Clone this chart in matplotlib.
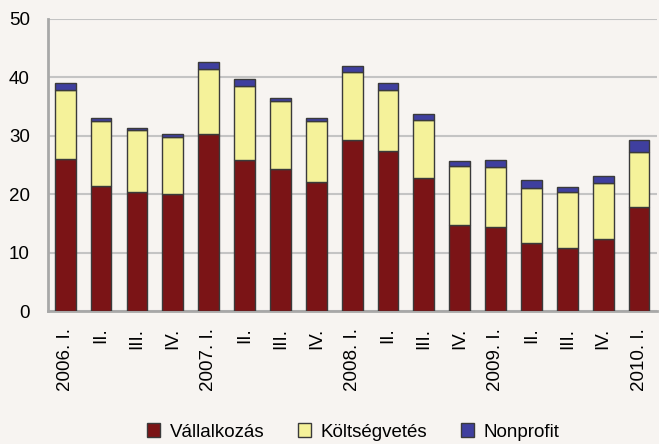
import numpy as np
import matplotlib.pyplot as plt

plt.rcParams['font.family'] = ['Liberation Sans', 'DejaVu Sans']

labels = ["2006. I.", "II.", "III.", "IV.",
          "2007. I.", "II.", "III.", "IV.",
          "2008. I.", "II.", "III.", "IV.",
          "2009. I.", "II.", "III.", "IV.",
          "2010. I."]
vallalkozas = [26.1, 21.4, 20.4, 20.0, 30.3, 25.9, 24.4, 22.1, 29.2, 27.4,
               22.7, 14.8, 14.3, 11.6, 10.8, 12.3, 17.8]
koltsegvetes = [11.7, 11.1, 10.6, 9.8, 11.1, 12.7, 11.6, 10.4, 11.7, 10.4,
                10.0, 10.0, 10.3, 9.5, 9.6, 9.6, 9.5]
nonprofit = [1.2, 0.5, 0.3, 0.5, 1.2, 1.1, 0.4, 0.5, 1.1, 1.2,
             1.1, 0.9, 1.3, 1.3, 0.8, 1.3, 2.0]

bg = '#F7F4F1'
fig = plt.figure(figsize=(6.59, 4.44), dpi=100, facecolor=bg)
ax = fig.add_axes([48 / 659, 1 - 311 / 444, 609 / 659, 292 / 444], facecolor=bg)

x = np.arange(len(labels))
v = np.array(vallalkozas)
k = np.array(koltsegvetes)
n = np.array(nonprofit)
w = 0.58
edge = dict(edgecolor='#3a3a3a', linewidth=1.0)
ax.bar(x, v, w, color='#7B1416', label='Vállalkozás', zorder=3, **edge)
ax.bar(x, k, w, bottom=v, color='#F5F29A', label='Költségvetés', zorder=3, **edge)
ax.bar(x, n, w, bottom=v + k, color='#3F3F9F', label='Nonprofit', zorder=3, **edge)

ax.set_xlim(-0.48, len(labels) - 0.5)
ax.set_ylim(0, 50)
ax.set_yticks([0, 10, 20, 30, 40, 50])
ax.yaxis.grid(True, color='#C4C4C4', linewidth=1.5, zorder=0)
ax.set_axisbelow(True)
ax.set_xticks(x)
ax.set_xticklabels(labels, rotation=90, va='top', ha='center')
ax.tick_params(axis='both', length=0, labelsize=13.5)
ax.tick_params(axis='x', pad=12)
ax.tick_params(axis='y', pad=13)
for s in ['top', 'right']:
    ax.spines[s].set_visible(False)
for s in ['left', 'bottom']:
    ax.spines[s].set_color('#A8A8A8')
    ax.spines[s].set_linewidth(2)

fig.legend(loc='center', bbox_to_anchor=(353 / 659, 1 - 432 / 444), ncol=3,
           frameon=False, fontsize=13.5, handlelength=0.7, handleheight=0.7,
           handletextpad=0.5, columnspacing=1.8)

fig.savefig('out.png', dpi=100, facecolor=bg)
